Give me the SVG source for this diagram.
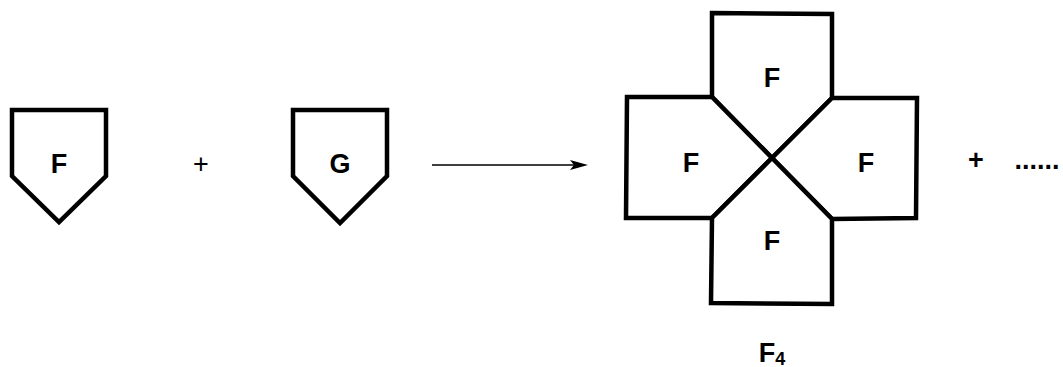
<svg xmlns="http://www.w3.org/2000/svg" width="1063" height="367" viewBox="0 0 1063 367">
<style>
.shape{fill:#fff;stroke:#000;stroke-width:4.5;stroke-linejoin:miter}
.lbl{font-family:"Liberation Sans",Arial,sans-serif;font-weight:bold;font-size:27px;fill:#000;text-anchor:middle}
.op{font-family:"Liberation Sans",Arial,sans-serif;font-size:27px;fill:#000;text-anchor:middle}
</style>
<rect width="1063" height="367" fill="#fff"/>
<g id="nodeF">
<polygon class="shape" points="12,110 106,110 106,176 59,222 12,176"/>
<text class="lbl" x="59" y="173">F</text>
</g>
<g id="plus1"><text class="op" x="201" y="173">+</text></g>
<g id="nodeG">
<polygon class="shape" points="293,110 387,110 387,176 340,223 293,176"/>
<text class="lbl" x="340" y="173">G</text>
</g>
<g id="connectors">
<line x1="432" y1="165" x2="576" y2="165" stroke="#000" stroke-width="1.6"/>
<polygon points="588,165 570,160 574,165 570,170" fill="#000"/>
</g>
<g id="F4">
<g id="pieceTop"><polygon class="shape" points="712,13 832,14 832,98 772,158 712,97"/><text class="lbl" x="772" y="87">F</text></g>
<g id="pieceLeft"><polygon class="shape" points="712,97 627,97 626,218 712,218 772,158"/><text class="lbl" x="691" y="172">F</text></g>
<g id="pieceRight"><polygon class="shape" points="832,98 917,98 916,218 832,219 772,158"/><text class="lbl" x="866" y="172">F</text></g>
<g id="pieceBottom"><polygon class="shape" points="712,218 711,303 832,304 832,219 772,158"/><text class="lbl" x="772" y="250">F</text></g>
</g>
<g id="plus2"><text class="lbl" x="976" y="169">+</text></g>
<g id="dots"><text class="lbl" x="1037" y="169">......</text></g>
<g id="labelF4"><text class="lbl" x="772" y="362">F<tspan font-size="18" dy="3">4</tspan></text></g>
</svg>
